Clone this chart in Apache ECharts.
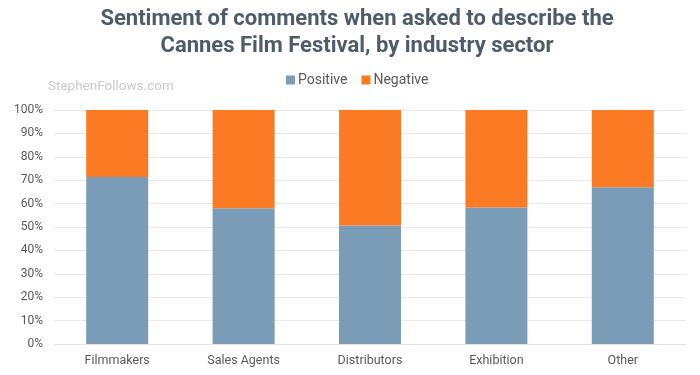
<!DOCTYPE html>
<html>
<head>
<meta charset="utf-8">
<title>Cannes sentiment by sector</title>
<style>
  * { margin: 0; padding: 0; }
  #chart { width: 700px; height: 375px; }
</style>
</head>
<body>
<div id="chart"></div>
<script src="https://cdn.jsdelivr.net/npm/echarts@6/dist/echarts.min.js"></script>
<script>
var categories = ['Filmmakers', 'Sales Agents', 'Distributors', 'Exhibition', 'Other'];
var positive = [71.4, 58.0, 50.6, 58.3, 67.0];
var negative = [28.6, 42.0, 49.4, 41.7, 33.0];

var chart = echarts.init(document.getElementById('chart'), null, { renderer: 'canvas' });

var option = {
  animation: false,
  title: {
    text: 'Sentiment of comments when asked to describe the\nCannes Film Festival, by industry sector',
    left: 352,
    textAlign: 'center',
    top: 1,
    textStyle: {
      fontFamily: 'Roboto',
      fontWeight: 'bold',
      fontSize: 22,
      lineHeight: 27,
      color: '#4d5c6b'
    }
  },
  graphic: [{
    type: 'text',
    left: 48,
    top: 80,
    style: {
      text: 'StephenFollows.com',
      font: '13.5px Roboto',
      fill: '#cacaca'
    }
  }],
  legend: {
    top: 68,
    left: 281,
    itemWidth: 9,
    itemHeight: 9,
    itemGap: 14,
    icon: 'rect',
    textStyle: { fontFamily: 'Roboto', fontSize: 14, color: '#595959', padding: [0, 0, 0, -2] },
    data: ['Positive', 'Negative']
  },
  grid: {
    left: 54,
    right: 14,
    top: 110,
    bottom: 31
  },
  xAxis: {
    type: 'category',
    data: categories,
    axisLine: { lineStyle: { color: '#e3e5ec' } },
    axisTick: { show: false },
    axisLabel: { fontFamily: 'Roboto', fontSize: 12.5, color: '#595959', margin: 10 }
  },
  yAxis: {
    type: 'value',
    min: 0,
    max: 100,
    interval: 10,
    axisLine: { show: false },
    axisTick: { show: false },
    splitLine: { lineStyle: { color: '#e8eaf0' } },
    axisLabel: { fontFamily: 'Roboto', fontSize: 12, color: '#595959', margin: 11, formatter: '{value}%' }
  },
  series: [{
    name: 'Positive',
    type: 'bar',
    stack: 'total',
    barWidth: 62,
    itemStyle: { color: '#7a9cb7' },
    data: positive
  }, {
    name: 'Negative',
    type: 'bar',
    stack: 'total',
    barWidth: 62,
    itemStyle: { color: '#fb7a24' },
    data: negative
  }]
};

chart.setOption(option);
window.addEventListener('resize', chart.resize);
</script>
</body>
</html>
